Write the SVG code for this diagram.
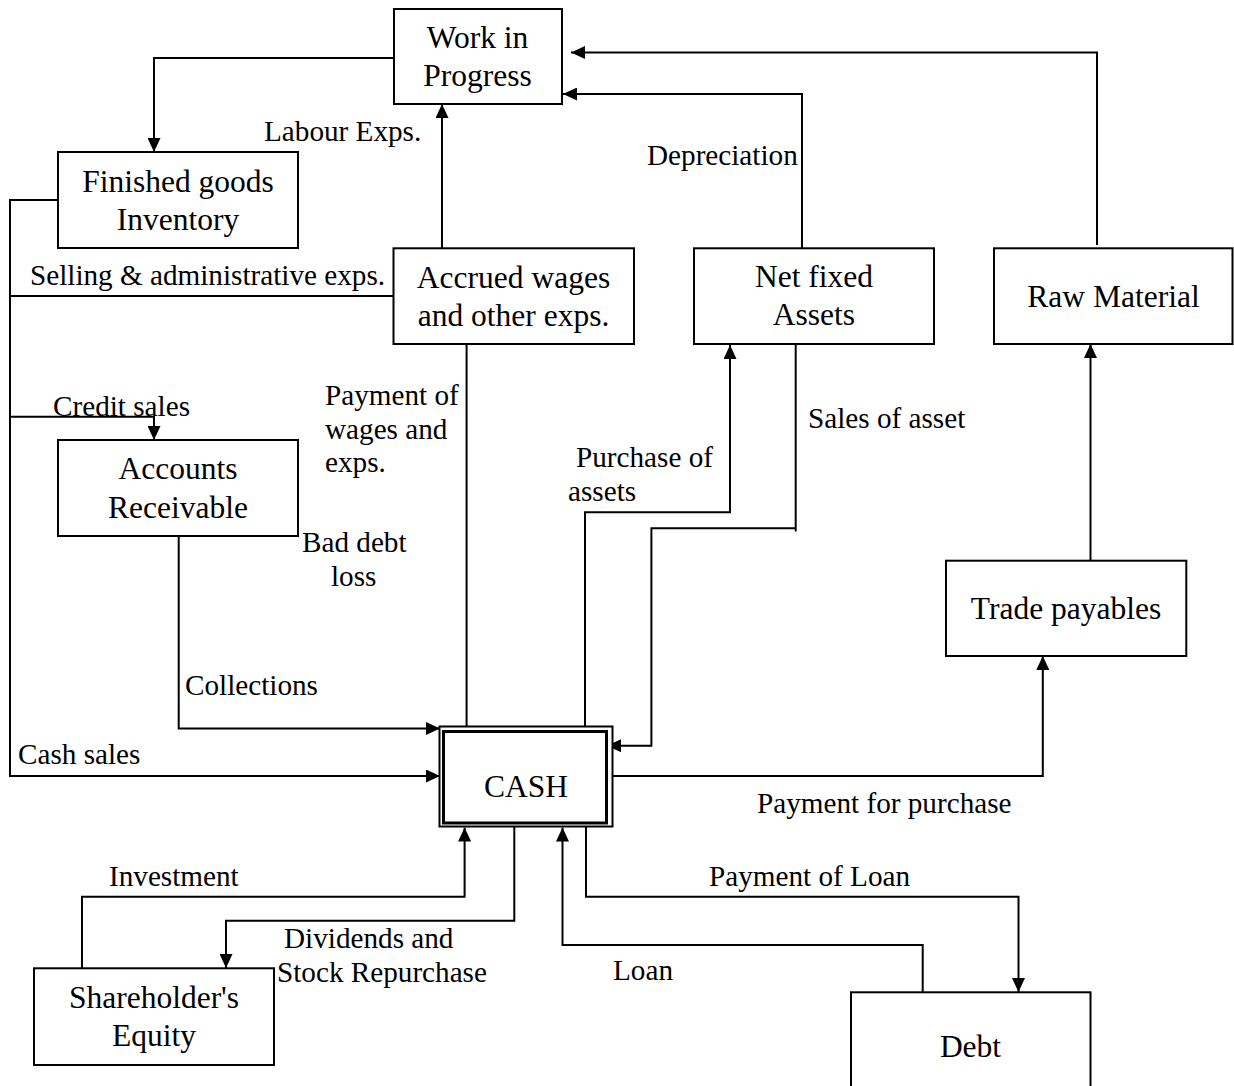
<svg xmlns="http://www.w3.org/2000/svg" width="1234" height="1086" viewBox="0 0 1234 1086">
<style>
  .box { fill: #ffffff; stroke: #000000; stroke-width: 2; }
  .node { font-family: "Liberation Serif", "Times New Roman", serif; font-size: 31.5px; fill: #000000; text-anchor: middle; }
  .lbl { font-family: "Liberation Serif", "Times New Roman", serif; font-size: 29.2px; fill: #000000; }
  .ln { fill: none; stroke: #000000; stroke-width: 2; }
  .arr { fill: none; stroke: #000000; stroke-width: 2; marker-end: url(#ah); }
</style>
<defs>
  <marker id="ah" markerUnits="userSpaceOnUse" markerWidth="14" markerHeight="13" refX="14" refY="6.5" orient="auto">
    <path d="M0,0 L14,6.5 L0,13 Z" fill="#000000"/>
  </marker>
</defs>
<rect width="1234" height="1086" fill="#ffffff"/>

<g id="connectors">
  <polyline class="arr" points="1097,245 1097,52.5 571,52.5"/>
  <polyline class="arr" points="802,248 802,94 563,94"/>
  <polyline class="arr" points="394,58 154,58 154,152"/>
  <polyline class="arr" points="442,248 442,104"/>
  <polyline class="arr" points="58,200 10,200 10,776 440,776"/>
  <polyline class="ln" points="10,296 393.5,296"/>
  <polyline class="arr" points="10,416.7 154,416.7 154,440"/>
  <polyline class="arr" points="178.7,536 178.7,728.5 440,728.5"/>
  <polyline class="ln" points="466.6,344 466.6,727"/>
  <polyline class="arr" points="585,727 585,512.3 730,512.3 730,345"/>
  <polyline class="ln" points="795.7,339 795.7,531.5"/>
  <polyline class="arr" points="795.7,528.3 651.4,528.3 651.4,745.7 607,745.7"/>
  <polyline class="arr" points="612,776 1042.8,776 1042.8,656"/>
  <polyline class="arr" points="1090.5,560.7 1090.5,344"/>
  <polyline class="arr" points="82,968 82,896.7 464.6,896.7 464.6,827.5"/>
  <polyline class="arr" points="514.3,823 514.3,920.7 226,920.7 226,968"/>
  <polyline class="arr" points="922.7,992 922.7,945 562.5,945 562.5,827.5"/>
  <polyline class="arr" points="586,823 586,896.7 1018.5,896.7 1018.5,992"/>
</g>

<g id="labels">
  <text class="lbl" x="264" y="141">Labour Exps.</text>
  <text class="lbl" x="647" y="165">Depreciation</text>
  <text class="lbl" x="30" y="285">Selling &amp; administrative exps.</text>
  <text class="lbl" x="53" y="416">Credit sales</text>
  <text class="lbl" x="325" y="405">Payment of</text>
  <text class="lbl" x="325" y="439">wages and</text>
  <text class="lbl" x="325" y="472">exps.</text>
  <text class="lbl" x="808" y="428">Sales of asset</text>
  <text class="lbl" x="576" y="467">Purchase of</text>
  <text class="lbl" x="568" y="501">assets</text>
  <text class="lbl" x="302" y="552">Bad debt</text>
  <text class="lbl" x="331" y="586">loss</text>
  <text class="lbl" x="185" y="695">Collections</text>
  <text class="lbl" x="18" y="764">Cash sales</text>
  <text class="lbl" x="757" y="813">Payment for purchase</text>
  <text class="lbl" x="109" y="886">Investment</text>
  <text class="lbl" x="709" y="886">Payment of Loan</text>
  <text class="lbl" x="284" y="948">Dividends and</text>
  <text class="lbl" x="277" y="982">Stock Repurchase</text>
  <text class="lbl" x="613" y="980">Loan</text>
</g>

<g id="wip">
  <rect class="box" x="394" y="9" width="168" height="95"/>
  <text class="node" x="477.5" y="48">Work in</text>
  <text class="node" x="477.5" y="86">Progress</text>
</g>
<g id="finished-goods">
  <rect class="box" x="58" y="152" width="240" height="96"/>
  <text class="node" x="178" y="192">Finished goods</text>
  <text class="node" x="178" y="230">Inventory</text>
</g>
<g id="accrued-wages">
  <rect class="box" x="393.5" y="248.3" width="240.5" height="95.7"/>
  <text class="node" x="513.5" y="288">Accrued wages</text>
  <text class="node" x="513.5" y="326">and other exps.</text>
</g>
<g id="net-fixed-assets">
  <rect class="box" x="694" y="248.3" width="240" height="95.7"/>
  <text class="node" x="814" y="287">Net fixed</text>
  <text class="node" x="814" y="325">Assets</text>
</g>
<g id="raw-material">
  <rect class="box" x="994" y="248.3" width="238.5" height="95.7"/>
  <text class="node" x="1113.5" y="307">Raw Material</text>
</g>
<g id="accounts-receivable">
  <rect class="box" x="58" y="440" width="240" height="96"/>
  <text class="node" x="178" y="479">Accounts</text>
  <text class="node" x="178" y="518">Receivable</text>
</g>
<g id="trade-payables">
  <rect class="box" x="946" y="560.7" width="240.3" height="95.3"/>
  <text class="node" x="1066" y="619">Trade payables</text>
</g>
<g id="cash">
  <rect class="box" x="439.5" y="726.5" width="173" height="100"/>
  <rect x="443.5" y="731.5" width="163" height="91.5" fill="none" stroke="#000000" stroke-width="3"/>
  <text class="node" x="526" y="797">CASH</text>
</g>
<g id="shareholders-equity">
  <rect class="box" x="34" y="968.3" width="240" height="96.7"/>
  <text class="node" x="154" y="1008">Shareholder's</text>
  <text class="node" x="154" y="1046">Equity</text>
</g>
<g id="debt">
  <rect class="box" x="851" y="992.3" width="239.5" height="110"/>
  <text class="node" x="970.5" y="1057">Debt</text>
</g>
</svg>
